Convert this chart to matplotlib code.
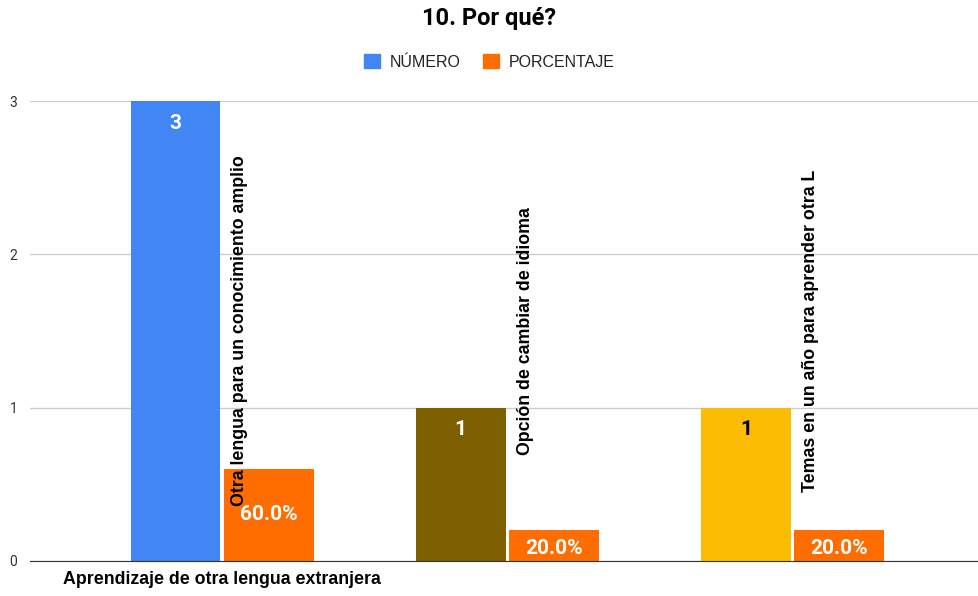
import matplotlib.pyplot as plt
from matplotlib.patches import Patch
import numpy as np

plt.rcParams['font.family'] = ['Roboto', 'DejaVu Sans']

title = '10. Por qué?'
series_names = ['NÚMERO', 'PORCENTAJE']
first_category = 'Aprendizaje de otra lengua extranjera'
reasons = ['Otra lengua para un conocimiento amplio',
           'Opción de cambiar de idioma',
           'Temas en un año para aprender otra L']
numero = [3, 1, 1]
porcentaje = [0.6, 0.2, 0.2]
numero_colors = ['#4285f4', '#7f6000', '#fbbc04']
numero_text_colors = ['white', 'white', 'black']
pct_color = '#ff6d01'

W, H = 979, 596
fig = plt.figure(figsize=(W / 100, H / 100), dpi=100)
ax = fig.add_axes([30 / W, 35 / H, 949 / W, 460 / H])

x = np.arange(len(numero))
bw = 0.315
gap = 0.006
b1 = ax.bar(x - bw / 2 - gap, numero, bw, color=numero_colors, zorder=3)
b2 = ax.bar(x + bw / 2 + gap, porcentaje, bw, color=pct_color, zorder=3)

# value labels inside the bars (offsets in points from bar top)
num_off = [-16, -16, -16]
pct_off = [-33, -13, -13]
for i, r in enumerate(b1):
    ax.annotate(str(numero[i]), (r.get_x() + r.get_width() / 2, r.get_height()),
                xytext=(0, num_off[i]), textcoords='offset points',
                ha='center', va='center', fontsize=15, fontweight='bold',
                color=numero_text_colors[i], zorder=5)
for i, r in enumerate(b2):
    ax.annotate(f'{porcentaje[i] * 100:.1f}%', (r.get_x() + r.get_width() / 2, r.get_height()),
                xytext=(0, pct_off[i]), textcoords='offset points',
                ha='center', va='center', fontsize=15, fontweight='bold',
                color='white', zorder=5)

# rotated category labels
for i, lab in enumerate(reasons):
    ax.text(x[i] + 0.062, 1.5, lab, rotation=90, ha='center', va='center',
            fontsize=12.8, fontweight='bold', color='black', zorder=6,
            family='Liberation Sans')

ax.set_xlim(-0.674, 2.654)
ax.set_ylim(0, 3)
ax.set_yticks([0, 1, 2, 3])
ax.set_xticks([0])
ax.set_xticklabels([first_category], fontsize=12.8, fontweight='bold',
                   family='Liberation Sans')
ax.tick_params(axis='x', length=0, pad=7)
ax.tick_params(axis='y', length=0, pad=9, labelsize=10, labelcolor='#333333')
ax.grid(axis='y', color='#cccccc', linewidth=1, zorder=0)
for s in ['top', 'right', 'left']:
    ax.spines[s].set_visible(False)
ax.spines['bottom'].set_color('#333333')
ax.spines['bottom'].set_zorder(4)

fig.text(0.5, 1 - 18 / H, title, ha='center', va='center', fontsize=17, fontweight='bold')
handles = [Patch(color='#4285f4'), Patch(color=pct_color)]
fig.legend(handles, series_names, loc='center', bbox_to_anchor=(0.5, 1 - 62 / H),
           ncol=2, frameon=False, handlelength=1.0, handleheight=1.0,
           columnspacing=1.4, handletextpad=0.6, labelcolor='#222222',
           prop={'family': 'Liberation Sans', 'size': 11.5})

fig.savefig('out.png', dpi=100)
